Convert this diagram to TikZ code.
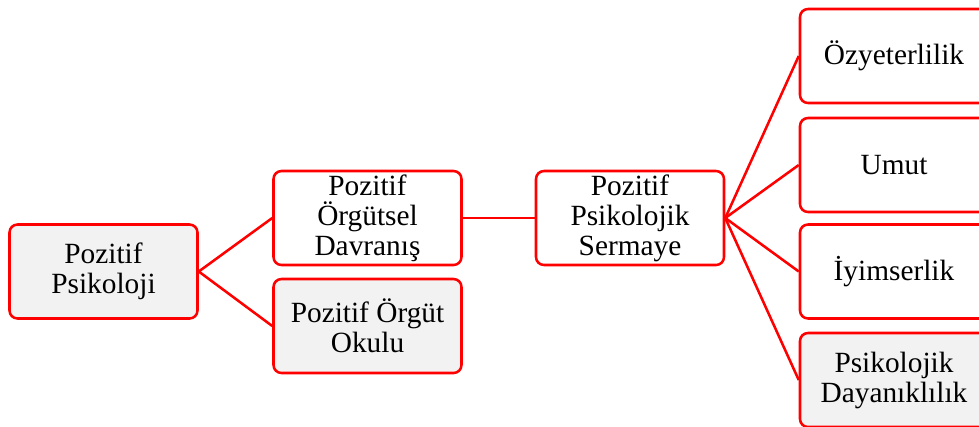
\documentclass[tikz,border=0pt]{standalone}
\usepackage{fontspec}
\setmainfont{Liberation Serif}
\begin{document}
\begin{tikzpicture}[x=0.75pt,y=-0.75pt,
  box/.style={draw=red, line width=1.9pt, rounded corners=6pt, fill=white,
    minimum width=141pt, minimum height=70.5pt, inner sep=2pt,
    align=center, font=\fontsize{22}{22.5}\selectfont},
  graybox/.style={box, fill=gray!10},
  link/.style={draw=red, line width=1.9pt}]
\useasboundingbox (0,0) rectangle (979,426);
\begin{scope}
\clip (0,0) rectangle (979,426);
% first level
\node[graybox] (pp) at (103.5,271.5) {Pozitif\\Psikoloji};
% second level
\node[box] (pod) at (367.5,218) {Pozitif\\Örgütsel\\Davranış};
\node[graybox] (poo) at (367.5,326) {Pozitif Örgüt\\Okulu};
% third level
\node[box] (pps) at (630,218) {Pozitif\\Psikolojik\\Sermaye};
% components
\node[box] (oz) at (894,56) {Özyeterlilik};
\node[box] (um) at (894,165) {Umut};
\node[box] (iy) at (894,271.5) {İyimserlik};
\node[graybox] (pd) at (894,380) {Psikolojik\\Dayanıklılık};
% connectors
\draw[link] (pp.east) -- (pod.west);
\draw[link] (pp.east) -- (poo.west);
\draw[link] (pod.east) -- (pps.west);
\draw[link] (pps.east) -- (oz.west);
\draw[link] (pps.east) -- (um.west);
\draw[link] (pps.east) -- (iy.west);
\draw[link] (pps.east) -- (pd.west);
\end{scope}
\end{tikzpicture}
\end{document}
